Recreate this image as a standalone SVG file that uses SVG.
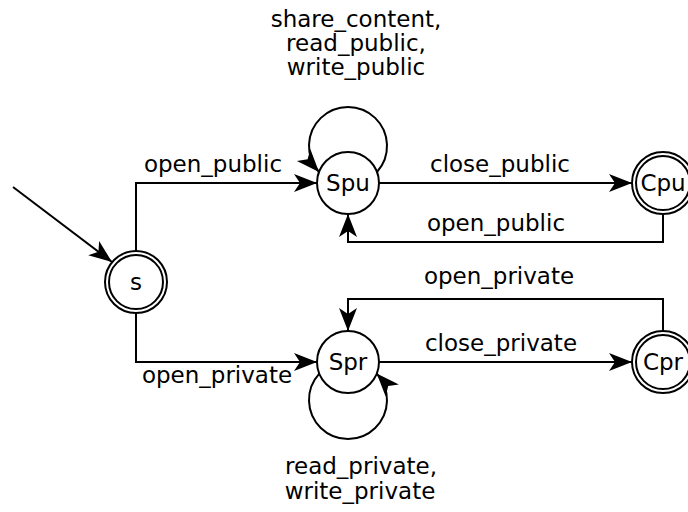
<svg xmlns="http://www.w3.org/2000/svg" width="688" height="512" viewBox="0 0 688 512">
  <style>
    .edge { fill: none; stroke: #000; stroke-width: 2; }
    .state { fill: #fff; stroke: #000; stroke-width: 2; }
    .label { font-family: "DejaVu Sans", Verdana, sans-serif; font-size: 23px; fill: #000; text-anchor: middle; }
  </style>
  <defs>
    <marker id="arrow" viewBox="0 0 25 20" markerWidth="25" markerHeight="20" refX="24" refY="10" orient="auto" markerUnits="userSpaceOnUse">
      <path d="M1,1 L24,10 L1,19 L7,10 Z" fill="#000"/>
    </marker>
  </defs>

  <g id="connectors">
    <!-- initial arrow into s -->
    <path class="edge" d="M13,187 L112,262" marker-end="url(#arrow)"/>
    <!-- s -> Spu -->
    <path class="edge" d="M136,251 V183 H317" marker-end="url(#arrow)"/>
    <text class="label" x="213" y="172">open_public</text>
    <!-- s -> Spr -->
    <path class="edge" d="M136,313 V362 H317" marker-end="url(#arrow)"/>
    <text class="label" x="217" y="383">open_private</text>
    <!-- Spu -> Cpu -->
    <path class="edge" d="M379,183 H632" marker-end="url(#arrow)"/>
    <text class="label" x="500" y="172">close_public</text>
    <!-- Cpu -> Spu -->
    <path class="edge" d="M663,214 V242 H348 V214" marker-end="url(#arrow)"/>
    <text class="label" x="496" y="231">open_public</text>
    <!-- Cpr -> Spr -->
    <path class="edge" d="M663,331 V299 H348 V331" marker-end="url(#arrow)"/>
    <text class="label" x="499" y="284">open_private</text>
    <!-- Spr -> Cpr -->
    <path class="edge" d="M379,362 H632" marker-end="url(#arrow)"/>
    <text class="label" x="501" y="351">close_private</text>
    <!-- Spu self loop -->
    <path class="edge" d="M377,172 A39,39 0 1 0 319,172" marker-end="url(#arrow)"/>
    <text class="label" x="356" y="27">share_content,</text>
    <text class="label" x="356" y="51">read_public,</text>
    <text class="label" x="356" y="75">write_public</text>
    <!-- Spr self loop -->
    <path class="edge" d="M319.3,373.6 A39,39 0 1 0 376.7,373.6" marker-end="url(#arrow)"/>
    <text class="label" x="361" y="474">read_private,</text>
    <text class="label" x="360" y="499">write_private</text>
  </g>

  <g id="node-s">
    <circle class="state" cx="136" cy="282" r="31"/>
    <circle class="state" cx="136" cy="282" r="27"/>
    <text class="label" x="136" y="290">s</text>
  </g>
  <g id="node-Spu">
    <circle class="state" cx="348" cy="183" r="31"/>
    <text class="label" x="348" y="191">Spu</text>
  </g>
  <g id="node-Cpu">
    <circle class="state" cx="663" cy="183" r="31"/>
    <circle class="state" cx="663" cy="183" r="27"/>
    <text class="label" x="663" y="191">Cpu</text>
  </g>
  <g id="node-Spr">
    <circle class="state" cx="348" cy="362" r="31"/>
    <text class="label" x="348" y="370">Spr</text>
  </g>
  <g id="node-Cpr">
    <circle class="state" cx="663" cy="362" r="31"/>
    <circle class="state" cx="663" cy="362" r="27"/>
    <text class="label" x="663" y="370">Cpr</text>
  </g>
</svg>
